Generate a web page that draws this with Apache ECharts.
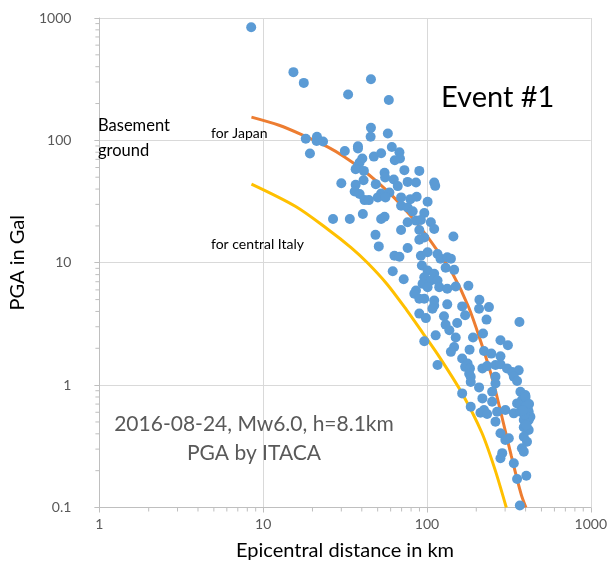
<!DOCTYPE html>
<html>
<head>
<meta charset="utf-8">
<script src="https://cdn.jsdelivr.net/npm/echarts@6/dist/echarts.min.js"></script>
<style>
  html, body { margin: 0; padding: 0; background: #ffffff; }
  #chart { width: 610px; height: 567px; }
</style>
</head>
<body>
<div id="chart"></div>
<script>
// Observed PGA (Gal) against epicentral distance (km), ITACA records
const distanceKm = [
  8.45, 15.3, 17.7, 33.0, 45.5, 58.5,
  18.2, 21.3, 21.2, 23.2, 19.3, 31.5, 37.9, 37.9, 45.5, 45.3, 57.7, 47.4, 52.5, 61.0,
  67.9, 68.4, 63.6, 40.3, 38.8, 37.9, 36.7, 41.2, 55.1, 72.8, 89.8, 55.5, 62.7, 66.3,
  76.2, 85.7, 110.7, 112.3, 30.0, 36.7, 41.0, 48.7, 36.2, 38.8, 52.5, 59.0, 50.1, 55.8,
  69.5, 86.5, 79.2, 100.9, 41.6, 44.2,
  69.5, 76.2, 81.8, 96.3, 26.7, 33.8, 40.6, 52.5, 55.1, 76.2, 85.7, 91.8, 105.6, 110.7,
  69.5, 89.8, 96.3, 89.8, 145, 48.5, 50.8, 76.2, 63.3, 67.9, 91.8, 100.9, 116, 121,
  133, 140, 93.1, 100.9, 110.7, 130, 146.5, 96.3, 105.6, 116, 61.8, 72.1, 94.0, 100.9,
  118.8, 133, 149.8, 179, 85.7, 83.7, 89.8, 96.3, 110.7, 110.7, 108, 133, 164, 209,
  208, 239, 89.8, 98.5, 127, 171, 231, 367, 130, 153, 137, 220, 113, 149.8,
  191, 96.3, 146.5, 182, 281, 312, 223, 247, 281, 164, 140,
  116, 177, 171, 183, 218, 233, 262, 281, 308, 331, 363, 181, 185, 262,
  339, 355, 185, 208, 262, 250, 164, 218, 250, 372, 398, 380, 355, 372,
  408, 185, 223, 212, 233, 268, 301, 339, 372, 398, 418, 428, 418, 262,
  390, 390, 418, 281, 316, 301, 390, 408, 380, 390, 288, 281, 339, 355,
  404, 369, 400, 412, 395, 420, 385, 405
];
const pgaGal = [
  840, 361, 295, 237, 316, 214,
  103, 107, 99, 98, 78, 82, 89.5, 86, 127, 107, 114, 73.7, 78.5, 88.3,
  80, 71, 68.9, 71, 65.8, 61.9, 58.2, 56.3, 54.3, 57.1, 56.3, 49.7, 47.9, 42.3,
  45.8, 45.2, 45.2, 42.5, 44.7, 43.3, 47.3, 43.9, 38.2, 36.4, 36.8, 37.5, 34.2, 34.2,
  34.2, 34.6, 33.1, 31.5, 32.5, 32.5,
  29.2, 28.3, 26.3, 25.5, 22.8, 22.8, 25.0, 22.8, 23.8, 21.4, 22.1, 22.4, 21.4, 18.9,
  18.5, 18.5, 16.1, 15.4, 16.4, 16.9, 13.6, 13.2, 11.4, 11.2, 11.4, 12.2, 11.8, 10.8,
  11.1, 10.8, 9.5, 8.64, 8.12, 9.09, 8.75, 7.62, 7.16, 7.16, 8.53, 7.34, 6.73, 6.32,
  6.32, 6.13, 6.40, 6.48, 5.94, 5.58, 5.08, 5.08, 4.92, 4.48, 4.21, 4.57, 4.40, 4.99,
  4.21, 4.34, 3.84, 3.53, 3.65, 3.72, 3.43, 3.28, 3.12, 3.22, 2.81, 2.64, 2.55, 2.45,
  2.45, 2.28, 2.05, 1.95, 2.33, 2.12, 1.90, 1.81, 1.72, 1.65, 1.87,
  1.46, 1.50, 1.41, 1.37, 1.37, 1.43, 1.46, 1.48, 1.37, 1.28, 1.32, 1.24, 1.17, 1.17,
  1.17, 1.08, 1.06, 0.958, 1.03, 0.882, 0.856, 0.779, 0.731, 0.882, 0.829, 0.755, 0.709, 0.687,
  0.709, 0.666, 0.626, 0.595, 0.581, 0.606, 0.626, 0.588, 0.606, 0.666, 0.606, 0.552, 0.519, 0.503,
  0.519, 0.453, 0.430, 0.404, 0.368, 0.356, 0.379, 0.345, 0.305, 0.286, 0.278, 0.253, 0.230, 0.171,
  0.182, 0.104, 0.80, 0.64, 0.57, 0.70, 0.62, 0.47
];

// Attenuation relation for basement ground, Japan
const japanDist = [8.48, 12.5, 17.3, 24.9, 31.4, 39.5, 49.7, 62.6, 78.8, 99, 114, 143, 180, 216, 248, 285, 327, 376, 402];
const japanPga  = [155, 133, 111, 88.1, 73.3, 58.9, 45.9, 34.4, 24.5, 16.8, 12.9, 8.2, 4.31, 2.15, 1.19, 0.57, 0.265, 0.128, 0.1];

// Attenuation relation for basement ground, central Italy
const italyDist = [8.48, 15.8, 24.9, 34.4, 43.3, 57.1, 75.2, 94.6, 119, 164, 216, 260, 305];
const italyPga  = [43.9, 28.8, 18.7, 13.3, 10.0, 6.68, 4.1, 2.65, 1.70, 0.855, 0.41, 0.205, 0.1];

// Axis ranges (decades)
const xRange = [1, 1000];
const yRange = [0.1, 1000];

const FONT = 'Lato, "Open Sans", sans-serif';
const AXIS_GRAY = '#bfbfbf';
const GRID_GRAY = '#d9d9d9';
const LABEL_GRAY = '#595959';

const chart = echarts.init(document.getElementById('chart'), null, { renderer: 'canvas' });

const toPairs = (xs, ys) => xs.map((x, i) => [x, ys[i]]);
const plainNumber = (v) => String(+Number(v).toPrecision(6));

chart.setOption({
  animation: false,
  backgroundColor: '#ffffff',
  grid: { left: 90, right: 19, top: 18, bottom: 59.5 },
  xAxis: {
    type: 'log', logBase: 10, min: xRange[0], max: xRange[1],
    name: 'Epicentral distance in km', nameLocation: 'middle', nameGap: 33,
    nameTextStyle: { fontSize: 20, color: '#000000', fontFamily: FONT },
    axisLine: { show: true, lineStyle: { color: AXIS_GRAY, width: 1 } },
    axisTick: { show: true, length: 5, lineStyle: { color: AXIS_GRAY } },
    minorTick: { show: false },
    axisLabel: { margin: 10, fontSize: 14, color: LABEL_GRAY, fontFamily: FONT, formatter: plainNumber },
    splitLine: { show: true, lineStyle: { color: GRID_GRAY, width: 1 } }
  },
  yAxis: {
    type: 'log', logBase: 10, min: yRange[0], max: yRange[1],
    name: 'PGA in Gal', nameLocation: 'middle', nameGap: 60,
    nameTextStyle: { fontSize: 20, color: '#000000', fontFamily: FONT },
    axisLine: { show: true, lineStyle: { color: AXIS_GRAY, width: 1 } },
    axisTick: { show: true, length: 5, lineStyle: { color: AXIS_GRAY } },
    minorTick: { show: false },
    axisLabel: { margin: 28, fontSize: 14, color: LABEL_GRAY, fontFamily: FONT, formatter: plainNumber },
    splitLine: { show: true, lineStyle: { color: GRID_GRAY, width: 1 } }
  },
  series: [
    {
      name: 'for Japan', type: 'line', smooth: 0.3, symbol: 'none',
      data: toPairs(japanDist, japanPga),
      lineStyle: { color: '#ED7D31', width: 3 }, z: 2
    },
    {
      name: 'for central Italy', type: 'line', smooth: 0.3, symbol: 'none',
      data: toPairs(italyDist, italyPga),
      lineStyle: { color: '#FFC000', width: 3 }, z: 2
    },
    {
      name: 'PGA', type: 'scatter', symbol: 'circle', symbolSize: 10,
      data: toPairs(distanceKm, pgaGal),
      itemStyle: { color: '#5B9BD5', opacity: 1 }, z: 3
    }
  ]
});

// Minor ticks at 2..9 within each decade, placed through the axis scales
const minorLines = [];
const x0 = chart.convertToPixel({ xAxisIndex: 0 }, xRange[0]);
const yBottom = chart.convertToPixel({ yAxisIndex: 0 }, yRange[0]);
for (let d = xRange[0]; d < xRange[1]; d *= 10) {
  for (let k = 2; k <= 9; k++) {
    const px = chart.convertToPixel({ xAxisIndex: 0 }, d * k);
    minorLines.push({ type: 'line', silent: true,
      shape: { x1: px, y1: yBottom, x2: px, y2: yBottom + 4 },
      style: { stroke: AXIS_GRAY, lineWidth: 1 } });
  }
}
for (let d = yRange[0]; d < yRange[1] - 1e-9; d *= 10) {
  for (let k = 2; k <= 9; k++) {
    const py = chart.convertToPixel({ yAxisIndex: 0 }, d * k);
    minorLines.push({ type: 'line', silent: true,
      shape: { x1: x0 - 4, y1: py, x2: x0, y2: py },
      style: { stroke: AXIS_GRAY, lineWidth: 1 } });
  }
}

const txt = (text, x, y, size, color, align) => ({
  type: 'text', x: x, y: y, z: 10, silent: true,
  style: { text: text, fontSize: size, fontFamily: FONT, fill: color,
           align: align || 'left', verticalAlign: 'middle' }
});

chart.setOption({
  graphic: [
    ...minorLines,
    txt('Event #1', 441, 98, 29, '#000000'),
    txt('Basement', 98, 126, 16.5, '#000000'),
    txt('ground', 98, 151, 16.5, '#000000'),
    txt('for Japan', 211, 133, 14, '#000000'),
    txt('for central Italy', 211, 244, 14, '#000000'),
    txt('2016-08-24, Mw6.0, h=8.1km', 254, 424, 21, LABEL_GRAY, 'center'),
    txt('PGA by ITACA', 254, 453, 21, LABEL_GRAY, 'center')
  ]
});
</script>
</body>
</html>
